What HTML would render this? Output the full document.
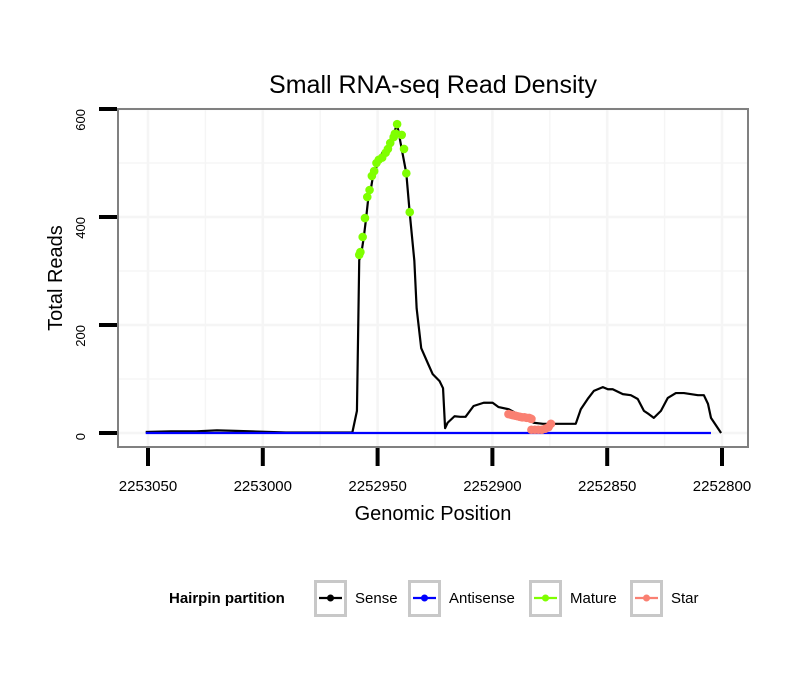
<!DOCTYPE html>
<html><head><meta charset="utf-8"><style>
body{margin:0;background:#fff;}
svg{display:block;font-family:"Liberation Sans",sans-serif;}
</style></head><body>
<svg id="chart" width="810" height="690">
<rect width="810" height="690" fill="#fff"/>
<text x="433" y="93" font-size="25" text-anchor="middle">Small RNA-seq Read Density</text>
<g id="grid"></g>
<g id="series"></g>
<rect x="118" y="109" width="630" height="338" fill="none" stroke="#808080" stroke-width="2"/>
<g id="axes"></g>
<text x="433" y="520" font-size="20" text-anchor="middle">Genomic Position</text>
<text transform="translate(62,278) rotate(-90)" font-size="20" text-anchor="middle">Total Reads</text>
<g id="legend"></g>
</svg>
<script>
const xTicks=[2253050,2253000,2252950,2252900,2252850,2252800];
const yTicks=[0,200,400,600];
const sensePos=[2253051,2253040,2253029,2253020,2253012,2253005,2252990,2252961,2252959,2252958,2252957,2252956,2252955,2252954,2252953,2252952,2252951,2252950,2252949,2252948,2252946,2252945,2252944,2252943,2252941.5,2252939.5,2252937.5,2252936,2252934,2252933,2252931,2252928,2252926,2252923,2252921.5,2252920.6,2252919.5,2252916.5,2252914,2252911.7,2252908.2,2252903.8,2252899.9,2252897.3,2252892.9,2252882,2252878,2252873.3,2252863.7,2252861.5,2252858.5,2252855.8,2252851.9,2252849.7,2252847.6,2252843.2,2252839.7,2252836.7,2252834,2252831.9,2252829.7,2252826.6,2252823.6,2252820.1,2252816.6,2252810.5,2252807.9,2252806.1,2252804.8,2252800.4];
const senseVal=[2,3,3,5,4,3,1,1,41,320,335,363,398,437,450,476,485,500,506,519,526,537,548,554,572,526,481,407,319,231,157,128,109,96,83,9,19,31,30,30,50,56,56,48,44,19,17,17,17,44,63,78,85,81,81,72,70,63,41,35,28,41,65,74,74,70,70,54,28,0,0];
const antiPos=[2253051,2252804.8];
const antiVal=[0,0];
const maturePos=[2252958,2252957.5,2252956.5,2252955.5,2252954.5,2252953.5,2252952.5,2252951.5,2252950.5,2252949.5,2252948,2252946.5,2252945.5,2252944.5,2252943,2252942.5,2252942,2252941.5,2252939.5,2252938.5,2252937.5,2252936];
const matureVal=[330,335,363,398,437,450,476,485,500,506,510,519,526,537,548,554,554,572,552,526,481,409];
const starPos=[2252893,2252892,2252891,2252890,2252889,2252888,2252887,2252886,2252885,2252884,2252883.5,2252883,2252883,2252881.5,2252880,2252878.5,2252877,2252875.5,2252874.5];
const starVal=[35,34,33,32,31,30,29,29,28,28,27,26,6,6,6,6,8,11,17];
const X=v=>148+(2253050-v)*(574/250);
const Y=v=>433-v*0.54;
const NS="http://www.w3.org/2000/svg";
function mk(t,a,p){const e=document.createElementNS(NS,t);for(const k in a)e.setAttribute(k,a[k]);p.appendChild(e);return e;}
const grid=document.getElementById('grid'),axes=document.getElementById('axes'),ser=document.getElementById('series');
[100,300,500].concat(yTicks).forEach(v=>{const l=mk('line',{x1:119,x2:747,y1:Y(v),y2:Y(v),stroke:'#f5f5f5','stroke-width':v%200?1.5:2.5},grid);

});
[2253075,2253025,2252975,2252925,2252875,2252825].concat(xTicks).forEach(v=>{const x=X(v);if(x<119||x>747)return;const l=mk('line',{x1:x,x2:x,y1:110,y2:446,stroke:'#f5f5f5','stroke-width':xTicks.includes(v)?2.5:1.5},grid);

});
xTicks.forEach(v=>{const x=X(v);const t=mk('line',{x1:x,x2:x,y1:448,y2:466,stroke:'#000','stroke-width':4},axes);


const tx=mk('text',{x:x,y:491,'font-size':15,'text-anchor':'middle'},axes);tx.textContent=v;

});
yTicks.forEach(v=>{const y=Y(v);const t=mk('line',{x1:99,x2:117,y1:y,y2:y,stroke:'#000','stroke-width':4},axes);


const tx=mk('text',{transform:`translate(85,${y}) rotate(-90)`,'font-size':13,'text-anchor':'end'},axes);tx.textContent=v;

});
function line(P,V,c,name){const p=mk('polyline',{points:P.map((x,i)=>X(x)+','+Y(V[i])).join(' '),fill:'none',stroke:c,'stroke-width':2.2,'stroke-linejoin':'round'},ser);

}
function pts(P,V,c,name){P.forEach((x,i)=>{const d=mk('circle',{cx:X(x),cy:Y(V[i]),r:4.3,fill:c},ser);

});}
line(sensePos,senseVal,'#000','sense-line');
line(antiPos,antiVal,'#0000ff','antisense-line');
pts(maturePos,matureVal,'#7fff00','mature-point');
pts(starPos,starVal,'#fa8072','star-point');
const lg=document.getElementById('legend');
const t0=mk('text',{x:169,y:603,'font-size':15,'font-weight':'bold'},lg);t0.textContent='Hairpin partition';


[['Sense','#000',314],['Antisense','#0000ff',408],['Mature','#7fff00',529],['Star','#fa8072',630]].forEach(([n,c,x])=>{
const g=mk('g',{},lg);


mk('rect',{x:x+1.5,y:581.5,width:30,height:34,fill:'#fff',stroke:'#c8c8c8','stroke-width':3},g);
mk('line',{x1:x+5,x2:x+28,y1:598,y2:598,stroke:c,'stroke-width':2.2},g);
mk('circle',{cx:x+16.5,cy:598,r:3.5,fill:c},g);
const t=mk('text',{x:x+41,y:603,'font-size':15},g);t.textContent=n;});
</script>
</body></html>
